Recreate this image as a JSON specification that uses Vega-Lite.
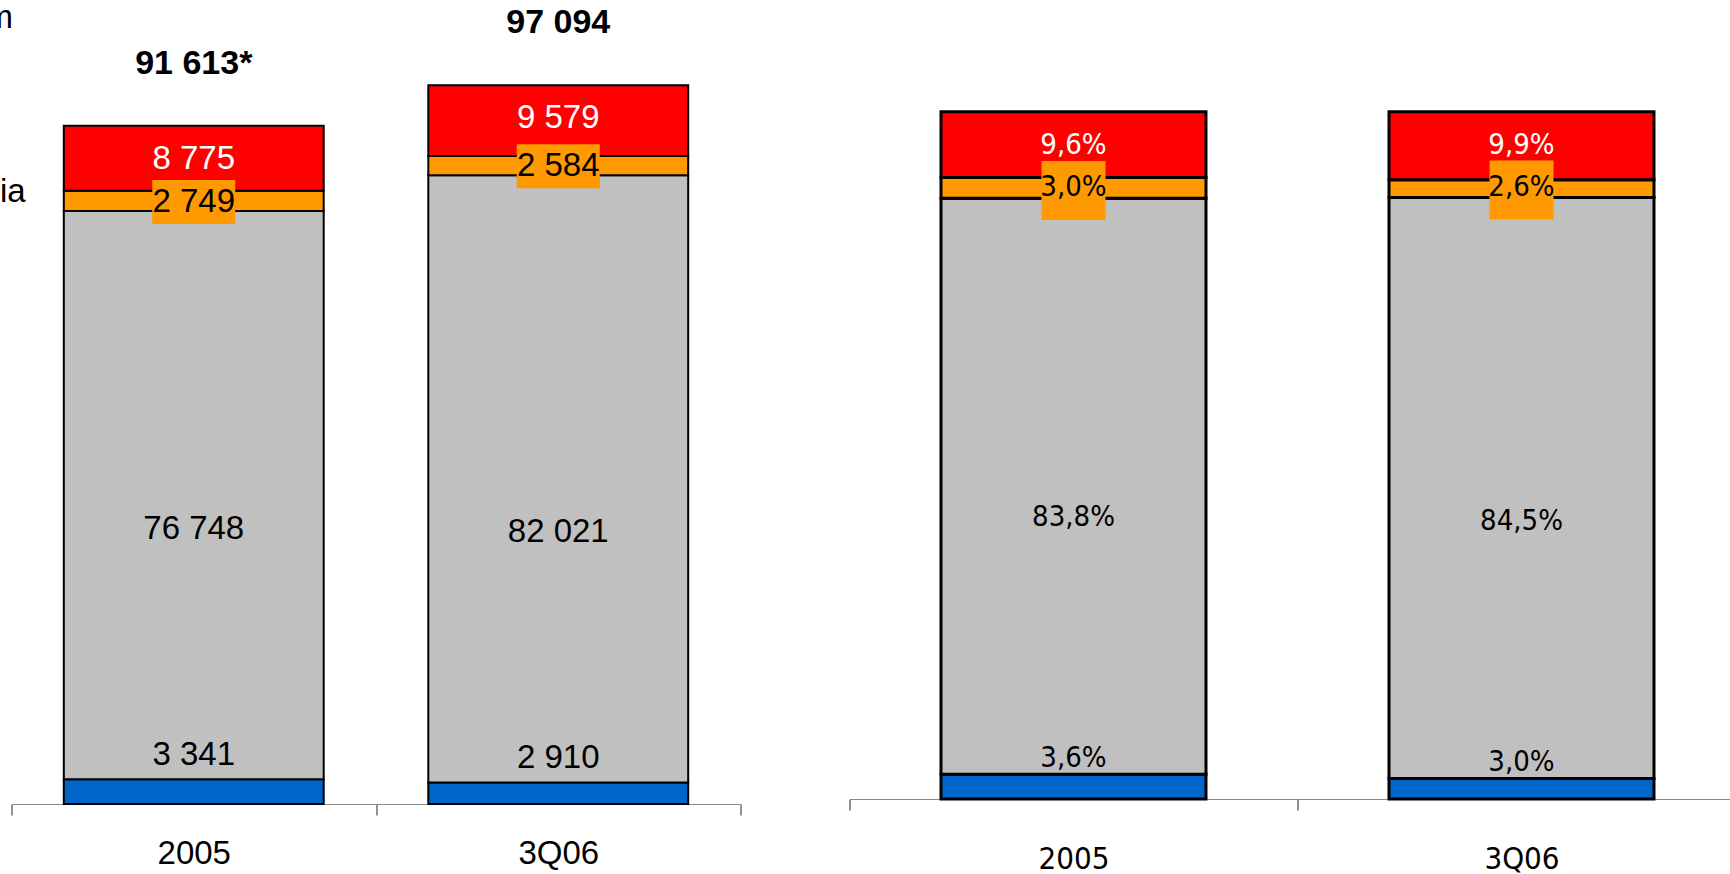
{
  "$schema": "https://vega.github.io/schema/vega-lite/v6.json",
  "padding": {"left": -15.5, "top": 0, "right": -14, "bottom": 0},
  "autosize": {"type": "pad"},
  "background": "white",
  "spacing": 107,
  "datasets": {
    "main": [
      {"period": "2005", "segment": "Segment 1", "k": 1, "value": 3341, "share": 0.036},
      {"period": "2005", "segment": "Segment 2", "k": 2, "value": 76748, "share": 0.838},
      {"period": "2005", "segment": "Segment 3", "k": 3, "value": 2749, "share": 0.030},
      {"period": "2005", "segment": "Segment 4", "k": 4, "value": 8775, "share": 0.096},
      {"period": "3Q06", "segment": "Segment 1", "k": 1, "value": 2910, "share": 0.030},
      {"period": "3Q06", "segment": "Segment 2", "k": 2, "value": 82021, "share": 0.845},
      {"period": "3Q06", "segment": "Segment 3", "k": 3, "value": 2584, "share": 0.026},
      {"period": "3Q06", "segment": "Segment 4", "k": 4, "value": 9579, "share": 0.099}
    ],
    "totals": [
      {"period": "2005", "total": 91613, "label": "91 613*"},
      {"period": "3Q06", "total": 97094, "label": "97 094"}
    ]
  },
  "hconcat": [
    {
      "width": 729,
      "height": 804,
      "layer": [
        {
          "data": {"name": "main"},
          "transform": [{"stack": "value", "groupby": ["period"], "sort": [{"field": "k", "order": "ascending"}], "as": ["v0", "v1"]}],
          "mark": {"type": "bar", "stroke": "black", "strokeWidth": 2, "width": {"band": 0.713}},
          "encoding": {
            "x": {"field": "period", "type": "nominal", "sort": ["2005", "3Q06"],
              "scale": {"paddingInner": 0, "paddingOuter": 0},
              "axis": {"title": null, "tickBand": "extent", "labelAngle": 0, "labelFontSize": 33, "labelFont": "Liberation Sans", "labelColor": "black", "tickSize": 11, "tickColor": "#6e6e6e", "tickWidth": 1.5, "domainColor": "#8a8a8a", "domainWidth": 1.2, "labelPadding": 22}},
            "y": {"field": "v0", "type": "quantitative",
              "scale": {"domain": [0, 108600], "nice": false},
              "axis": {"title": null, "values": [106298, 82670], "labelExpr": "datum.value > 100000 ? 'm' : 'ia'", "domain": false, "ticks": false, "tickSize": 0, "grid": false, "labelAlign": "left", "labelBaseline": "middle", "labelPadding": {"condition": {"test": "datum.value > 100000", "value": 26.5}, "value": 12}, "labelFontSize": 33, "labelFont": "Liberation Sans", "labelColor": "black", "labelOverlap": false}},
            "y2": {"field": "v1"},
            "color": {"field": "segment", "type": "nominal", "legend": null,
              "scale": {"domain": ["Segment 1", "Segment 2", "Segment 3", "Segment 4"], "range": ["#0066CC", "#C0C0C0", "#FF9900", "#FF0000"]}}
          }
        },
        {
          "data": {"name": "main"},
          "transform": [{"stack": "value", "groupby": ["period"], "sort": [{"field": "k", "order": "ascending"}], "as": ["v0", "v1"]}, {"filter": "datum.k == 3"}],
          "mark": {"type": "point", "filled": true, "opacity": 1, "fill": "#FF9900", "strokeWidth": 0, "size": 6889, "shape": "M-1,-0.747L1,-0.747L1,0.313L-1,0.313Z"},
          "encoding": {
            "x": {"field": "period", "type": "nominal"},
            "y": {"field": "v0", "type": "quantitative"}
          }
        },
        {
          "data": {"name": "main"},
          "transform": [{"stack": "value", "groupby": ["period"], "sort": [{"field": "k", "order": "ascending"}], "as": ["v0", "v1"]}, {"filter": "datum.k == 4"}],
          "mark": {"type": "text", "font": "Liberation Sans", "fontSize": 33, "color": "white", "baseline": "middle", "dy": 33},
          "encoding": {
            "x": {"field": "period", "type": "nominal"},
            "y": {"field": "v1", "type": "quantitative"},
            "text": {"field": "value", "type": "quantitative", "format": ",d"}
          }
        },
        {
          "data": {"name": "main"},
          "transform": [{"stack": "value", "groupby": ["period"], "sort": [{"field": "k", "order": "ascending"}], "as": ["v0", "v1"]}, {"filter": "datum.k == 3"}],
          "mark": {"type": "text", "font": "Liberation Sans", "fontSize": 33, "color": "black", "baseline": "middle", "dy": -9},
          "encoding": {
            "x": {"field": "period", "type": "nominal"},
            "y": {"field": "v0", "type": "quantitative"},
            "text": {"field": "value", "type": "quantitative", "format": ",d"}
          }
        },
        {
          "data": {"name": "main"},
          "transform": [{"stack": "value", "groupby": ["period"], "sort": [{"field": "k", "order": "ascending"}], "as": ["v0", "v1"]}, {"filter": "datum.k == 2"}],
          "mark": {"type": "text", "font": "Liberation Sans", "fontSize": 33, "color": "black", "baseline": "middle", "dy": -250},
          "encoding": {
            "x": {"field": "period", "type": "nominal"},
            "y": {"field": "v0", "type": "quantitative"},
            "text": {"field": "value", "type": "quantitative", "format": ",d"}
          }
        },
        {
          "data": {"name": "main"},
          "transform": [{"stack": "value", "groupby": ["period"], "sort": [{"field": "k", "order": "ascending"}], "as": ["v0", "v1"]}, {"filter": "datum.k == 1"}],
          "mark": {"type": "text", "font": "Liberation Sans", "fontSize": 33, "color": "black", "baseline": "alphabetic", "dy": -14},
          "encoding": {
            "x": {"field": "period", "type": "nominal"},
            "y": {"field": "v1", "type": "quantitative"},
            "text": {"field": "value", "type": "quantitative", "format": ",d"}
          }
        },
        {
          "data": {"name": "totals"},
          "mark": {"type": "text", "font": "Liberation Sans", "fontSize": 34, "fontWeight": "bold", "color": "black", "baseline": "middle", "dy": -62},
          "encoding": {
            "x": {"field": "period", "type": "nominal"},
            "y": {"field": "total", "type": "quantitative"},
            "text": {"field": "label", "type": "nominal"}
          }
        }
      ]
    },
    {
      "width": 896,
      "height": 799,
      "layer": [
        {
          "data": {"name": "main"},
          "transform": [{"stack": "share", "groupby": ["period"], "sort": [{"field": "k", "order": "ascending"}], "as": ["s0", "s1"]}],
          "mark": {"type": "bar", "stroke": "black", "strokeWidth": 3, "width": {"band": 0.5915}},
          "encoding": {
            "x": {"field": "period", "type": "nominal", "sort": ["2005", "3Q06"],
              "scale": {"paddingInner": 0, "paddingOuter": 0},
              "axis": {"title": null, "tickBand": "extent", "labelAngle": 0, "labelFontSize": 31, "labelFont": "DejaVu Sans Condensed", "labelColor": "black", "tickSize": 11, "tickColor": "#6e6e6e", "tickWidth": 1.5, "domainColor": "#8a8a8a", "domainWidth": 1.2, "labelPadding": 34}},
            "y": {"field": "s0", "type": "quantitative", "scale": {"domain": [0, 1.1624], "nice": false}, "axis": null},
            "y2": {"field": "s1"},
            "color": {"field": "segment", "type": "nominal", "legend": null,
              "scale": {"domain": ["Segment 1", "Segment 2", "Segment 3", "Segment 4"], "range": ["#0066CC", "#C0C0C0", "#FF9900", "#FF0000"]}}
          }
        },
        {
          "data": {"name": "main"},
          "transform": [{"stack": "share", "groupby": ["period"], "sort": [{"field": "k", "order": "ascending"}], "as": ["s0", "s1"]}, {"filter": "datum.k == 3"}],
          "mark": {"type": "point", "filled": true, "opacity": 1, "fill": "#FF9900", "strokeWidth": 0, "size": 4096, "shape": "M-1,-1.16L1,-1.16L1,0.68L-1,0.68Z"},
          "encoding": {
            "x": {"field": "period", "type": "nominal"},
            "y": {"field": "s0", "type": "quantitative"}
          }
        },
        {
          "data": {"name": "main"},
          "transform": [{"stack": "share", "groupby": ["period"], "sort": [{"field": "k", "order": "ascending"}], "as": ["s0", "s1"]}, {"filter": "datum.k == 4"}],
          "mark": {"type": "text", "font": "DejaVu Sans Condensed", "fontSize": 29, "color": "white", "baseline": "middle", "dy": 33},
          "encoding": {
            "x": {"field": "period", "type": "nominal"},
            "y": {"field": "s1", "type": "quantitative"},
            "text": {"field": "share", "type": "quantitative", "format": ".1%"}
          }
        },
        {
          "data": {"name": "main"},
          "transform": [{"stack": "share", "groupby": ["period"], "sort": [{"field": "k", "order": "ascending"}], "as": ["s0", "s1"]}, {"filter": "datum.k == 3"}],
          "mark": {"type": "text", "font": "DejaVu Sans Condensed", "fontSize": 29, "color": "black", "baseline": "middle", "dy": -11},
          "encoding": {
            "x": {"field": "period", "type": "nominal"},
            "y": {"field": "s0", "type": "quantitative"},
            "text": {"field": "share", "type": "quantitative", "format": ".1%"}
          }
        },
        {
          "data": {"name": "main"},
          "transform": [{"stack": "share", "groupby": ["period"], "sort": [{"field": "k", "order": "ascending"}], "as": ["s0", "s1"]}, {"filter": "datum.k == 2"}],
          "mark": {"type": "text", "font": "DejaVu Sans Condensed", "fontSize": 29, "color": "black", "baseline": "middle", "dy": -257},
          "encoding": {
            "x": {"field": "period", "type": "nominal"},
            "y": {"field": "s0", "type": "quantitative"},
            "text": {"field": "share", "type": "quantitative", "format": ".1%"}
          }
        },
        {
          "data": {"name": "main"},
          "transform": [{"stack": "share", "groupby": ["period"], "sort": [{"field": "k", "order": "ascending"}], "as": ["s0", "s1"]}, {"filter": "datum.k == 1"}],
          "mark": {"type": "text", "font": "DejaVu Sans Condensed", "fontSize": 29, "color": "black", "baseline": "alphabetic", "dy": -7},
          "encoding": {
            "x": {"field": "period", "type": "nominal"},
            "y": {"field": "s1", "type": "quantitative"},
            "text": {"field": "share", "type": "quantitative", "format": ".1%"}
          }
        }
      ]
    }
  ],
  "config": {
    "view": {"stroke": null},
    "axis": {"grid": false},
    "locale": {"number": {"decimal": ",", "thousands": " ", "grouping": [3], "currency": ["", " zł"]}}
  }
}
